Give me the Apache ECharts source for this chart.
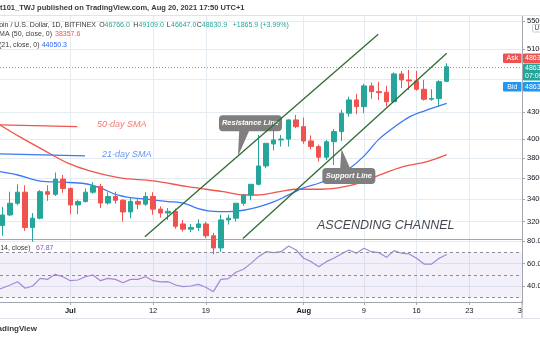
<!DOCTYPE html>
<html><head><meta charset="utf-8">
<script src="https://cdn.jsdelivr.net/npm/echarts@6/dist/echarts.min.js"></script>
<style>html,body{margin:0;padding:0;background:#fff}#c{width:540px;height:340px}</style>
</head><body><div id="c"></div>
<script>
// Day index 0 = 2021-06-21 ; candles start at day 1 (Jun 22) and end at day 60 (Aug 20)
const firstDay = 1;
const opens  = [31660,32580,33630,34650,31500,32300,34700,34450,35900,35000,33480,33780,34650,35200,33650,34250,33900,32850,33800,33550,34250,33100,32750,32900,31800,31350,31500,31800,30800,29800,32150,32300,33630,34390,35400,37200,39480,39910,40000,42130,41370,39800,39200,38090,39720,40820,42900,44470,43670,46190,45480,45400,44260,47710,46940,46820,45770,44550,44630,46766];
const closes = [32580,33630,34650,31500,32300,34700,34450,35900,35000,33480,33780,34650,35200,33650,34250,33900,32850,33800,33550,34250,33100,32750,32900,31600,31350,31500,31800,30800,29800,32150,32300,33630,34390,35400,37200,39550,39910,40000,42130,41370,39800,39200,38090,39720,40820,42900,44470,43670,46190,45480,45360,44260,47710,46940,46820,45770,44550,44630,46720,48630.9];
const lows   = [30800,32500,33450,31200,30300,32200,33850,34300,34600,32650,32650,33700,34500,33200,33500,33600,32000,32300,33100,33400,32600,32350,32150,31400,31150,31100,31200,30600,29300,29500,31750,32000,33400,33900,35300,36970,38800,39200,39200,41200,39500,38900,37640,37800,37300,39800,42500,42800,42900,44600,44470,43700,44200,45900,45690,45600,44400,44380,43670,46647];
const highs  = [33300,34700,35400,35300,32750,34850,35300,36550,36300,35100,33950,35000,35600,35450,34650,34700,34000,34200,34100,34650,34650,33350,33200,33150,32150,31800,32200,32000,31050,32600,32600,33650,34500,35400,40450,39550,41940,40450,42200,42700,42400,40400,39400,39900,41100,43300,44870,45200,46450,46600,46700,46200,47900,48100,48230,48100,46950,45770,46900,49109];

const sma21Days = [0.66,3,6,9,12,14,16,18,20,23,25,27,29,31,33,35,37,39,41,43,45,47,49,51,53,55,57,60];
const sma21     = [36630,36300,35700,35600,35450,35050,34450,34150,34000,33780,33650,33150,32900,32880,33000,33300,33750,34400,35050,35500,36100,36900,38200,40000,41300,42450,43150,44050.3];
const sma50Days = [0.66,3.3,6.4,9.6,12.6,16.6,21,25.4,30.3,33.2,34.8,37.8,40.1,43.2,45.4,48.5,51.1,54.2,57.4,60];
const sma50     = [41560,40240,38850,37510,36700,36010,35730,35200,34700,34390,34390,34700,34930,34930,35030,35530,36310,37130,37640,38357.6];

// RSI(14) for day 0 .. 60
const rsi = [36,38.4,41.0,43.9,38.1,40.1,46.9,46.0,50.4,48.3,44.8,45.4,48.3,49.8,44.8,46.9,46.0,43.0,46.0,46.0,48.3,44.8,43.7,43.9,41.0,39.5,40.1,41.6,39.0,35.1,46.0,46.6,52.2,54.9,60.1,66.0,70.4,69.5,70.4,75.4,71.9,64.6,61.6,57.2,61.6,64.6,68.4,71.9,69.0,73.4,70.4,69.5,65.4,71.3,69.0,68.4,64.6,59.5,59.5,64.6,67.87];

const xTickDays   = [10,21,28,41,49,56,63,70];
const xTickLabels = ['Jul','12','19','Aug','9','16','23','30'];
const priceLabelTicks = [32000,34000,36000,38000,40000,43000,51000,55000];
const priceGridTicks  = [32000,34000,36000,38000,40000,43000,47000,51000,55000];
const rsiTicks = [40,60,80];
const rsiBands = [30,50,70];
const lastPrice = 48630.9;

// drawn annotations (data coordinates: day index, price)
const resistanceLine = [[19.9,30710],[50.9,53110]];
const supportLine    = [[32.93,30580],[60,50460]];
const sma50Tag = [[0.66,41560],[10.93,41370]];
const sma21Tag = [[0.66,38430],[11.95,38220]];
const noteTexts  = ['50-day SMA','21-day SMA','ASCENDING CHANNEL'];
const noteDays   = [16.83,17.49,51.9];
const notePrices = [41640,38410,31630];
const calloutTexts = ['Resistance Line','Support Line'];
const calloutDays = [33.93,47.0];
const calloutPrices = [41750,36190];
const calloutTipDays = [32.27,46.02];
const calloutTipPrices = [38200,38970];

const UP='#26a69a', DOWN='#ef5350', GRID='#e4ecf2', AXIS='#a3a6af', TXT='#131722';
const FONT='Liberation Sans';

const candleData = opens.map((o,k)=>[firstDay+k,o,closes[k],lows[k],highs[k]]);
const rsiData = rsi.map((v,k)=>[k,v]);

function txt(x,y,text,fill,font,align){
  align = align||'left';
  return {type:'text',x:x,y:y,silent:true,z:100,zlevel:1,style:{text:text,fill:fill,font:font,align:align,textAlign:align,verticalAlign:'middle',textVerticalAlign:'middle'}};
}
function box(x,y,w,h,fill,stroke){
  return {type:'rect',silent:true,z:99,zlevel:1,shape:{x:x,y:y,width:w,height:h,r:1},style:{fill:fill,stroke:stroke||null,lineWidth:stroke?1:0}};
}

const chart = echarts.init(document.getElementById('c'),null,{renderer:'canvas'});
const xCommon = {type:'value',min:0.66,max:70};
chart.setOption({
  animation:false,
  backgroundColor:'#fff',
  textStyle:{fontFamily:FONT},
  grid:[{left:0,top:16,width:522,height:223.5,containLabel:false,outerBoundsMode:'none'},
        {left:0,top:240,width:522,height:62,containLabel:false,outerBoundsMode:'none'}],
  xAxis:[
    Object.assign({},xCommon,{gridIndex:0,axisLabel:{show:false},axisTick:{show:false,customValues:xTickDays},
      axisLine:{show:true,onZero:false,lineStyle:{color:AXIS,width:1}},splitLine:{show:true,lineStyle:{color:GRID,width:1}}}),
    Object.assign({},xCommon,{gridIndex:1,
      axisLine:{show:true,onZero:false,lineStyle:{color:AXIS,width:1}},
      axisTick:{show:true,length:3,customValues:xTickDays,lineStyle:{color:AXIS}},
      splitLine:{show:true,lineStyle:{color:GRID,width:1}},
      axisLabel:{show:true,customValues:xTickDays,margin:5,fontSize:7.5,color:TXT,hideOverlap:false,
        formatter:function(v){const k=xTickDays.indexOf(Math.round(v));const s=k>=0?xTickLabels[k]:'';return /[A-Za-z]/.test(s)?'{b|'+s+'}':s;},
        rich:{b:{fontWeight:'bold',fontSize:7.5,color:TXT}}}})
  ],
  yAxis:[
    {type:'log',logBase:10,gridIndex:0,position:'right',min:30490,max:55800,
      axisLine:{show:true,lineStyle:{color:AXIS,width:1}},
      axisTick:{show:true,length:3,customValues:priceGridTicks,lineStyle:{color:AXIS}},
      splitLine:{show:true,lineStyle:{color:GRID,width:1}},
      axisLabel:{show:true,customValues:priceLabelTicks,margin:5,fontSize:7.5,color:TXT,formatter:function(v){return String(Math.round(v));}}},
    {type:'value',gridIndex:1,position:'right',min:26,max:80.7,
      axisLine:{show:true,lineStyle:{color:AXIS,width:1}},
      axisTick:{show:true,length:3,customValues:rsiTicks,lineStyle:{color:AXIS}},
      splitLine:{show:true,lineStyle:{color:GRID,width:1}},
      axisLabel:{show:true,customValues:rsiTicks,margin:5,fontSize:7.5,color:TXT,formatter:function(v){return Number(v).toFixed(2);}}}
  ],
  series:[
    {type:'line',name:'SMA50',xAxisIndex:0,yAxisIndex:0,data:sma50Days.map((d,k)=>[d,sma50[k]]),smooth:0.35,showSymbol:false,symbol:'none',lineStyle:{color:'#f0554b',width:1.3},z:3,silent:true},
    {type:'line',name:'SMA21',xAxisIndex:0,yAxisIndex:0,data:sma21Days.map((d,k)=>[d,sma21[k]]),smooth:0.35,showSymbol:false,symbol:'none',lineStyle:{color:'#3d78f5',width:1.3},z:3,silent:true},
    {type:'line',name:'tag50',xAxisIndex:0,yAxisIndex:0,data:sma50Tag,symbol:'none',lineStyle:{color:'#f0554b',width:1.3},z:3,silent:true},
    {type:'line',name:'tag21',xAxisIndex:0,yAxisIndex:0,data:sma21Tag,symbol:'none',lineStyle:{color:'#3d78f5',width:1.3},z:3,silent:true},
    {type:'candlestick',name:'BTCUSD',xAxisIndex:0,yAxisIndex:0,data:candleData,barWidth:5,
      itemStyle:{color:UP,color0:DOWN,borderColor:UP,borderColor0:DOWN,borderWidth:1},z:4,silent:true,
      markLine:{silent:true,symbol:['none','none'],label:{show:false},lineStyle:{color:UP,type:[1,2],width:1,opacity:0.8},data:[{yAxis:lastPrice}]}},
    {type:'custom',name:'callouts',xAxisIndex:0,yAxisIndex:0,z:5,silent:true,
      data:calloutDays.map((d,k)=>[d,calloutPrices[k],calloutTipDays[k],calloutTipPrices[k]]),
      encode:{x:[0,2],y:[1,3]},
      renderItem:function(params,api){
        const k=params.dataIndex;
        const c=api.coord([api.value(0),api.value(1)]);
        const t=api.coord([api.value(2),api.value(3)]);
        const w=k===0?63:53,h=16;
        const below=t[1]>c[1];
        const by=below?c[1]+h/2-0.5:c[1]-h/2+0.5;
        const mx=(t[0]+c[0])/2;
        return {type:'group',children:[
          {type:'polygon',shape:{points:[[mx-5,by],[mx+5,by],[t[0],t[1]]]},style:{fill:'#7f7f7f'}},
          {type:'rect',shape:{x:c[0]-w/2,y:c[1]-h/2,width:w,height:h,r:4},style:{fill:'#7f7f7f'}},
          {type:'text',x:c[0],y:c[1],style:{text:calloutTexts[k],fill:'#fff',fontSize:7.5,fontStyle:'italic',fontWeight:'bold',fontFamily:FONT,align:'center',verticalAlign:'middle'}}
        ]};
      }},
    {type:'line',name:'resistance',xAxisIndex:0,yAxisIndex:0,data:resistanceLine,symbol:'none',lineStyle:{color:'#2f6b33',width:1.3},z:6,silent:true},
    {type:'line',name:'support',xAxisIndex:0,yAxisIndex:0,data:supportLine,symbol:'none',lineStyle:{color:'#2f6b33',width:1.3},z:6,silent:true},
    {type:'scatter',name:'notes',xAxisIndex:0,yAxisIndex:0,symbolSize:0,z:7,silent:true,
      data:noteDays.map((d,k)=>({value:[d,notePrices[k]],label:{show:true,position:'inside',formatter:noteTexts[k],
        color:k===0?'#f0554b':(k===1?'#3d78f5':'#131722'),fontStyle:'italic',
        fontSize:k===2?12.5:9,fontFamily:FONT}}))},
    {type:'line',name:'RSI',xAxisIndex:1,yAxisIndex:1,data:rsiData,symbol:'none',lineStyle:{color:'#a08ad8',width:1.2},z:4,silent:true,
      markArea:{silent:true,itemStyle:{color:'rgba(126,87,194,0.09)'},data:[[{yAxis:rsiBands[0]},{yAxis:rsiBands[2]}]]},
      markLine:{silent:true,symbol:['none','none'],label:{show:false},lineStyle:{color:'#8a8d96',type:[3,3],width:1},data:rsiBands.map(v=>({yAxis:v}))}}
  ],
  graphic:{elements:[
    {type:'line',silent:true,z:98,zlevel:1,shape:{x1:0,y1:15.5,x2:540,y2:15.5},style:{stroke:'#e0e3eb',lineWidth:1}},
    {type:'line',silent:true,z:98,zlevel:1,shape:{x1:0,y1:318.5,x2:540,y2:318.5},style:{stroke:'#e0e3eb',lineWidth:1}},
    box(522.5,303,18,14,'#fff'),
    {type:'line',silent:true,z:100,zlevel:1,shape:{x1:522,y1:300,x2:522,y2:318},style:{stroke:AXIS,lineWidth:1}},
    txt(0,7.5,'t101_TWJ published on TradingView.com, Aug 20, 2021 17:50 UTC+1','#3a3a3a','bold 7.5px Liberation Sans'),
    txt(96,25,'Bitcoin / U.S. Dollar, 1D, BITFINEX','#3a3a3a','7px Liberation Sans','right'),
    txt(99.3,25,'O','#3a3a3a','7px Liberation Sans'), txt(104.5,25,'46766.0',UP,'7px Liberation Sans'),
    txt(133.3,25,'H','#3a3a3a','7px Liberation Sans'), txt(138.5,25,'49109.0',UP,'7px Liberation Sans'),
    txt(166.7,25,'L','#3a3a3a','7px Liberation Sans'), txt(171,25,'46647.0',UP,'7px Liberation Sans'),
    txt(196.7,25,'C','#3a3a3a','7px Liberation Sans'), txt(201.8,25,'48630.9',UP,'7px Liberation Sans'),
    txt(232.7,25,'+1865.9 (+3.99%)',UP,'7px Liberation Sans'),
    txt(52,34.3,'MA (50, close, 0)','#3a3a3a','7px Liberation Sans','right'), txt(55,34.3,'38357.6',DOWN,'7px Liberation Sans'),
    txt(39.5,45,'MA (21, close, 0)','#3a3a3a','7px Liberation Sans','right'), txt(41.7,45,'44050.3','#2962ff','7px Liberation Sans'),
    txt(30.5,248,'RSI (14, close)','#3a3a3a','7px Liberation Sans','right'), txt(36,248,'67.87','#7e57c2','7px Liberation Sans'),
    txt(37,329,'TradingView','#3a3a3a','bold 8px Liberation Sans','right'),
    box(532.5,24.5,10,7.5,'#fff','#c8cbd3'), txt(534.5,28.3,'USD','#3a3a3a','6.5px Liberation Sans'),
    box(503,53.5,18.5,9.5,DOWN), txt(512.3,58.3,'Ask','#fff','7px Liberation Sans','center'),
    box(523,53.5,20,9.5,DOWN), txt(525,58.3,'48631.8','#fff','7px Liberation Sans'),
    box(523,63.5,20,17,UP), txt(525,68,'48630.9','#fff','7px Liberation Sans'), txt(525,76,'07:09:52','#fff','7px Liberation Sans'),
    box(503,82,18.5,9.5,'#2196f3'), txt(512.3,86.7,'Bid','#fff','7px Liberation Sans','center'),
    box(523,82,20,9.5,'#2196f3'), txt(525,86.7,'48630.0','#fff','7px Liberation Sans')
  ]}
});
</script>
</body></html>
